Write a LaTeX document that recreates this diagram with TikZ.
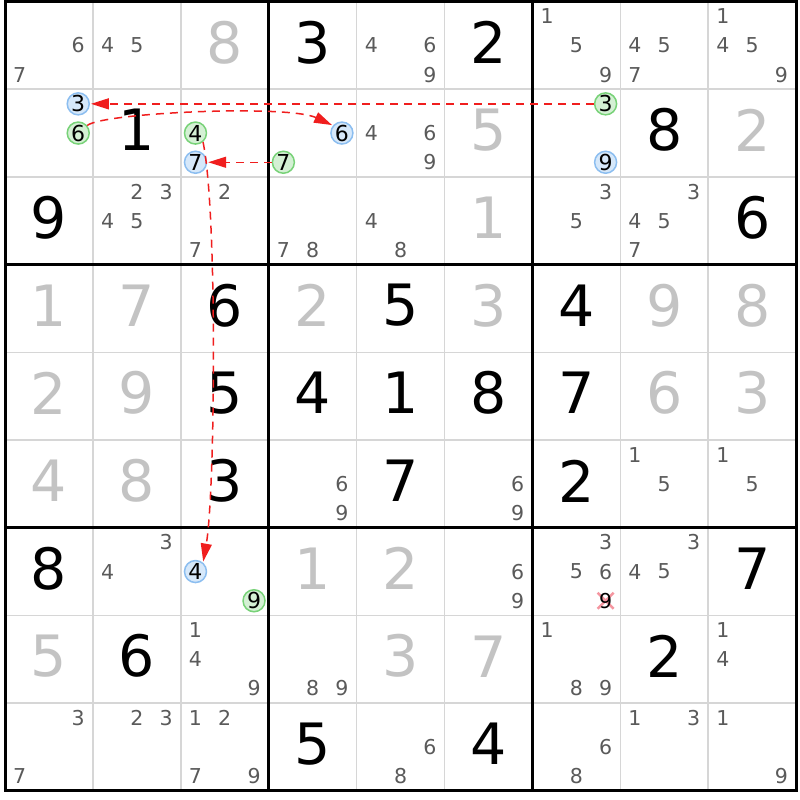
\documentclass[tikz,border=0pt]{standalone}
\usepackage{fontspec}
\setmainfont{DejaVu Sans}
\usetikzlibrary{arrows.meta}

\definecolor{grille}{RGB}{214,214,214}
\definecolor{gcand}{RGB}{90,90,90}
\definecolor{gtrouve}{RGB}{195,195,195}
\definecolor{bfond}{RGB}{214,232,250}
\definecolor{bbord}{RGB}{140,190,240}
\definecolor{vfond}{RGB}{212,240,212}
\definecolor{vbord}{RGB}{120,210,120}
\definecolor{rouge}{RGB}{240,30,30}
\definecolor{rose}{RGB}{245,150,160}

\begin{document}
\begin{tikzpicture}[x=87.9pt,y=-87.7pt,
  fin/.style={draw=grille,line width=1.5pt},
  epais/.style={draw=black,line width=3pt},
  donne/.style={font=\fontsize{57}{57}\selectfont,inner sep=0pt,yshift=3pt},
  trouve/.style={donne,text=gtrouve},
  cand/.style={font=\fontsize{20.5}{20.5}\selectfont,inner sep=0pt,text=gcand},
  bleu/.style={cand,font=\fontsize{22}{22}\selectfont,circle,text=black,fill=bfond,draw=bbord,line width=1.5pt,minimum size=22pt},
  vert/.style={bleu,fill=vfond,draw=vbord},
  croix/.style={draw=rose,line width=2.5pt},
  fleche/.style={draw=rouge,line width=1.5pt,dash pattern=on 8pt off 6pt,-{Triangle[length=18pt,width=11pt]},shorten >=1pt}]

\fill[white] (-0.0569,-0.0171) rectangle (9.0444,9.1049);
\useasboundingbox (-0.0569,-0.0171) rectangle (9.0444,9.1049);

\draw[fin] (1,0)--(1,9) (2,0)--(2,9) (4,0)--(4,9) (5,0)--(5,9) (7,0)--(7,9) (8,0)--(8,9);%la grille
\draw[fin] (0,1)--(9,1) (0,2)--(9,2) (0,4)--(9,4) (0,5)--(9,5) (0,7)--(9,7) (0,8)--(9,8);
\draw[epais] (3,0)--(3,9) (6,0)--(6,9) (0,3)--(9,3) (0,6)--(9,6);
\draw[epais] (0,0) rectangle (9,9);

% ligne 1
\node[cand] (r1c1n6) at (0.833,0.5) {6};
\node[cand] (r1c1n7) at (0.167,0.833) {7};
\node[cand] (r1c2n4) at (1.167,0.5) {4};
\node[cand] (r1c2n5) at (1.5,0.5) {5};
\node[trouve] (r1c3) at (2.5,0.5) {8};
\node[donne] (r1c4) at (3.5,0.5) {3};
\node[cand] (r1c5n4) at (4.167,0.5) {4};
\node[cand] (r1c5n6) at (4.833,0.5) {6};
\node[cand] (r1c5n9) at (4.833,0.833) {9};
\node[donne] (r1c6) at (5.5,0.5) {2};
\node[cand] (r1c7n1) at (6.167,0.167) {1};
\node[cand] (r1c7n5) at (6.5,0.5) {5};
\node[cand] (r1c7n9) at (6.833,0.833) {9};
\node[cand] (r1c8n4) at (7.167,0.5) {4};
\node[cand] (r1c8n5) at (7.5,0.5) {5};
\node[cand] (r1c8n7) at (7.167,0.833) {7};
\node[cand] (r1c9n1) at (8.167,0.167) {1};
\node[cand] (r1c9n4) at (8.167,0.5) {4};
\node[cand] (r1c9n5) at (8.5,0.5) {5};
\node[cand] (r1c9n9) at (8.833,0.833) {9};

% ligne 2
\node[bleu] (r2c1n3) at (0.833,1.167) {3};
\node[vert] (r2c1n6) at (0.833,1.5) {6};
\node[donne] (r2c2) at (1.5,1.5) {1};
\node[vert] (r2c3n4) at (2.167,1.5) {4};
\node[bleu] (r2c3n7) at (2.167,1.833) {7};
\node[bleu] (r2c4n6) at (3.833,1.5) {6};
\node[vert] (r2c4n7) at (3.167,1.833) {7};
\node[cand] (r2c5n4) at (4.167,1.5) {4};
\node[cand] (r2c5n6) at (4.833,1.5) {6};
\node[cand] (r2c5n9) at (4.833,1.833) {9};
\node[trouve] (r2c6) at (5.5,1.5) {5};
\node[vert] (r2c7n3) at (6.833,1.167) {3};
\node[bleu] (r2c7n9) at (6.833,1.833) {9};
\node[donne] (r2c8) at (7.5,1.5) {8};
\node[trouve] (r2c9) at (8.5,1.5) {2};

% ligne 3
\node[donne] (r3c1) at (0.5,2.5) {9};
\node[cand] (r3c2n2) at (1.5,2.167) {2};
\node[cand] (r3c2n3) at (1.833,2.167) {3};
\node[cand] (r3c2n4) at (1.167,2.5) {4};
\node[cand] (r3c2n5) at (1.5,2.5) {5};
\node[cand] (r3c3n2) at (2.5,2.167) {2};
\node[cand] (r3c3n7) at (2.167,2.833) {7};
\node[cand] (r3c4n7) at (3.167,2.833) {7};
\node[cand] (r3c4n8) at (3.5,2.833) {8};
\node[cand] (r3c5n4) at (4.167,2.5) {4};
\node[cand] (r3c5n8) at (4.5,2.833) {8};
\node[trouve] (r3c6) at (5.5,2.5) {1};
\node[cand] (r3c7n3) at (6.833,2.167) {3};
\node[cand] (r3c7n5) at (6.5,2.5) {5};
\node[cand] (r3c8n3) at (7.833,2.167) {3};
\node[cand] (r3c8n4) at (7.167,2.5) {4};
\node[cand] (r3c8n5) at (7.5,2.5) {5};
\node[cand] (r3c8n7) at (7.167,2.833) {7};
\node[donne] (r3c9) at (8.5,2.5) {6};

% ligne 4
\node[trouve] (r4c1) at (0.5,3.5) {1};
\node[trouve] (r4c2) at (1.5,3.5) {7};
\node[donne] (r4c3) at (2.5,3.5) {6};
\node[trouve] (r4c4) at (3.5,3.5) {2};
\node[donne] (r4c5) at (4.5,3.5) {5};
\node[trouve] (r4c6) at (5.5,3.5) {3};
\node[donne] (r4c7) at (6.5,3.5) {4};
\node[trouve] (r4c8) at (7.5,3.5) {9};
\node[trouve] (r4c9) at (8.5,3.5) {8};

% ligne 5
\node[trouve] (r5c1) at (0.5,4.5) {2};
\node[trouve] (r5c2) at (1.5,4.5) {9};
\node[donne] (r5c3) at (2.5,4.5) {5};
\node[donne] (r5c4) at (3.5,4.5) {4};
\node[donne] (r5c5) at (4.5,4.5) {1};
\node[donne] (r5c6) at (5.5,4.5) {8};
\node[donne] (r5c7) at (6.5,4.5) {7};
\node[trouve] (r5c8) at (7.5,4.5) {6};
\node[trouve] (r5c9) at (8.5,4.5) {3};

% ligne 6
\node[trouve] (r6c1) at (0.5,5.5) {4};
\node[trouve] (r6c2) at (1.5,5.5) {8};
\node[donne] (r6c3) at (2.5,5.5) {3};
\node[cand] (r6c4n6) at (3.833,5.5) {6};
\node[cand] (r6c4n9) at (3.833,5.833) {9};
\node[donne] (r6c5) at (4.5,5.5) {7};
\node[cand] (r6c6n6) at (5.833,5.5) {6};
\node[cand] (r6c6n9) at (5.833,5.833) {9};
\node[donne] (r6c7) at (6.5,5.5) {2};
\node[cand] (r6c8n1) at (7.167,5.167) {1};
\node[cand] (r6c8n5) at (7.5,5.5) {5};
\node[cand] (r6c9n1) at (8.167,5.167) {1};
\node[cand] (r6c9n5) at (8.5,5.5) {5};

% ligne 7
\node[donne] (r7c1) at (0.5,6.5) {8};
\node[cand] (r7c2n3) at (1.833,6.167) {3};
\node[cand] (r7c2n4) at (1.167,6.5) {4};
\node[bleu] (r7c3n4) at (2.167,6.5) {4};
\node[vert] (r7c3n9) at (2.833,6.833) {9};
\node[trouve] (r7c4) at (3.5,6.5) {1};
\node[trouve] (r7c5) at (4.5,6.5) {2};
\node[cand] (r7c6n6) at (5.833,6.5) {6};
\node[cand] (r7c6n9) at (5.833,6.833) {9};
\node[cand] (r7c7n3) at (6.833,6.167) {3};
\node[cand] (r7c7n5) at (6.5,6.5) {5};
\node[cand] (r7c7n6) at (6.833,6.5) {6};
\draw[croix] (6.833,6.833) +(-8pt,-8pt) -- +(8pt,8pt) +(-8pt,8pt) -- +(8pt,-8pt);%le 9 elimine
\node[cand,text=black] (r7c7n9) at (6.833,6.833) {9};
\node[cand] (r7c8n3) at (7.833,6.167) {3};
\node[cand] (r7c8n4) at (7.167,6.5) {4};
\node[cand] (r7c8n5) at (7.5,6.5) {5};
\node[donne] (r7c9) at (8.5,6.5) {7};

% ligne 8
\node[trouve] (r8c1) at (0.5,7.5) {5};
\node[donne] (r8c2) at (1.5,7.5) {6};
\node[cand] (r8c3n1) at (2.167,7.167) {1};
\node[cand] (r8c3n4) at (2.167,7.5) {4};
\node[cand] (r8c3n9) at (2.833,7.833) {9};
\node[cand] (r8c4n8) at (3.5,7.833) {8};
\node[cand] (r8c4n9) at (3.833,7.833) {9};
\node[trouve] (r8c5) at (4.5,7.5) {3};
\node[trouve] (r8c6) at (5.5,7.5) {7};
\node[cand] (r8c7n1) at (6.167,7.167) {1};
\node[cand] (r8c7n8) at (6.5,7.833) {8};
\node[cand] (r8c7n9) at (6.833,7.833) {9};
\node[donne] (r8c8) at (7.5,7.5) {2};
\node[cand] (r8c9n1) at (8.167,7.167) {1};
\node[cand] (r8c9n4) at (8.167,7.5) {4};

% ligne 9
\node[cand] (r9c1n3) at (0.833,8.167) {3};
\node[cand] (r9c1n7) at (0.167,8.833) {7};
\node[cand] (r9c2n2) at (1.5,8.167) {2};
\node[cand] (r9c2n3) at (1.833,8.167) {3};
\node[cand] (r9c3n1) at (2.167,8.167) {1};
\node[cand] (r9c3n2) at (2.5,8.167) {2};
\node[cand] (r9c3n7) at (2.167,8.833) {7};
\node[cand] (r9c3n9) at (2.833,8.833) {9};
\node[donne] (r9c4) at (3.5,8.5) {5};
\node[cand] (r9c5n6) at (4.833,8.5) {6};
\node[cand] (r9c5n8) at (4.5,8.833) {8};
\node[donne] (r9c6) at (5.5,8.5) {4};
\node[cand] (r9c7n6) at (6.833,8.5) {6};
\node[cand] (r9c7n8) at (6.5,8.833) {8};
\node[cand] (r9c8n1) at (7.167,8.167) {1};
\node[cand] (r9c8n3) at (7.833,8.167) {3};
\node[cand] (r9c9n1) at (8.167,8.167) {1};
\node[cand] (r9c9n9) at (8.833,8.833) {9};

% les fleches
\draw[fleche] (r2c7n3) -- (r2c1n3);
\draw[fleche] (r2c1n6.40) .. controls +(40:20pt) and +(155:50pt) .. (r2c4n6.140);
\draw[fleche] (r2c4n7) -- (r2c3n7);
\draw[fleche] (r2c3n4.-50) .. controls +(-78:70pt) and +(80:70pt) .. (r7c3n4.50);
\end{tikzpicture}
\end{document}
